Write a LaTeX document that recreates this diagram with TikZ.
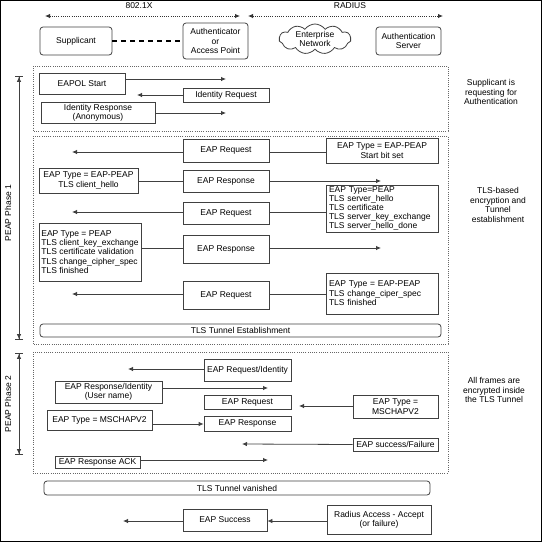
\documentclass[tikz,border=0pt]{standalone}
\usepackage{fontspec}
\setmainfont{Liberation Sans}
\usetikzlibrary{arrows.meta,shapes.symbols,calc}
\newcommand\figfont{\fontsize{8.5}{9.4}\selectfont}
\newcommand\tightfont{\fontsize{8.5}{8.8}\selectfont}
\begin{document}
\begin{tikzpicture}[x=1pt,y=-1pt,
  box/.style={draw=black!75, line width=0.8pt, rectangle, inner sep=1pt, font=\figfont, align=center},
  rbox/.style={box, rounded corners=3pt},
  lbox/.style={box, align=left, inner xsep=2pt},
  sz/.style 2 args={minimum width=#1pt, minimum height=#2pt},
  arr/.style={draw=black!75, line width=0.8pt, -{Latex[length=5pt,width=4.5pt]}},
  link/.style={draw=black!75, line width=0.8pt},
  dotarr/.style={draw=black!80, line width=0.9pt, dash pattern=on 1pt off 1.2pt, {Latex[length=5pt,width=4.5pt]}-{Latex[length=5pt,width=4.5pt]}},
  sect/.style={draw=black!60, line width=0.8pt, dash pattern=on 1pt off 1.2pt},
  phase/.style={draw=black!75, line width=0.8pt, {Bar[width=8pt]Latex[length=5pt,width=4.5pt]}-{Latex[length=5pt,width=4.5pt]Bar[width=8pt]}},
  lbl/.style={font=\figfont, align=center, inner sep=0pt}]
\useasboundingbox (0,0) rectangle (542,542);
\draw[black, line width=1.2pt] (0.6,0.6) rectangle (541.4,541.4);

% header
\node[lbl] (l8021x) at (139,5.5) {802.1X};
\node[lbl] (lradius) at (350,5.5) {RADIUS};
\coordinate (d1a) at (45,16); \coordinate (d1b) at (240,16);
\coordinate (d2a) at (248,16); \coordinate (d2b) at (443,16);
\draw[dotarr] (d1a) -- (d1b);
\draw[dotarr] (d2a) -- (d2b);

\node[rbox, sz={72}{28}] (sup) at (76,41) {Supplicant};
\node[rbox, sz={65}{36}] (auth) at (215.5,41) {Authenticator\\or\\Access Point};
\node[draw=black!75, line width=0.8pt, cloud, cloud puffs=11, cloud puff arc=110, aspect=2.6, inner sep=0pt, font=\figfont, align=center, minimum width=72pt, minimum height=30pt] (cloud) at (315,39) {Enterprise\\Network};
\node[rbox, sz={65}{28}] (server) at (408.5,41) {Authentication\\Server};
\draw[draw=black, line width=1.8pt, dash pattern=on 5pt off 4pt] (sup.east) -- (auth.west);

% section frames
\draw[sect] (33,66) rectangle (448,131);
\draw[sect] (33,136) rectangle (448,344);
\draw[sect] (33,352) rectangle (448,473);

% phase arrows
\coordinate (p1t) at (19,76); \coordinate (p1b) at (19,340);
\coordinate (p2t) at (19,353); \coordinate (p2b) at (19,455);
\draw[phase] (p1t) -- (p1b);
\draw[phase] (p2t) -- (p2b);
\node[lbl, rotate=90] (ph1) at (8,213) {PEAP Phase 1};
\node[lbl, rotate=90] (ph2) at (8,404) {PEAP Phase 2};

% right notes
\node[lbl] (n1) at (491,92) {Supplicant is\\requesting for\\Authentication};
\node[lbl] (n2) at (498,205) {TLS-based\\encryption and\\Tunnel\\establishment};
\node[lbl] (n3) at (494,390) {All frames are\\encrypted inside\\the TLS Tunnel};

% section 1
\node[box, sz={86}{21}] (eapol) at (82,83.5) {EAPOL Start};
\node[box, sz={86}{14}] (idreq) at (226,95) {Identity Request};
\node[box, sz={114}{21}] (idresp) at (98,112.5) {Identity Response\\(Anonymous)};
\coordinate (e1) at (226,79);
\coordinate (e2) at (137,95);
\coordinate (e3) at (226,113);
\draw[arr] (eapol.east |- e1) -- (e1);
\draw[arr] (idreq.west) -- (e2);
\draw[arr] (idresp.east |- e3) -- (e3);

% section 2
\node[box, sz={86}{23}] (req1) at (226,150.5) {EAP Request};
\node[box, sz={112}{25}] (peap1) at (382,150.5) {EAP Type = EAP-PEAP\\Start bit set};
\node[box, sz={99}{25}] (hello) at (88.5,180.5) {EAP Type = EAP-PEAP\\TLS client\_hello};
\node[box, sz={86}{22}] (resp1) at (226,181) {EAP Response};
\node[box, sz={86}{22}] (req2) at (226,213) {EAP Request};
\node[lbox, sz={112}{47}, text width=106pt, font=\tightfont] (srv) at (382,208.5) {EAP Type=PEAP\\TLS server\_hello\\TLS certificate\\TLS server\_key\_exchange\\TLS server\_hello\_done};
\node[lbox, sz={102}{58}, inner xsep=1pt] (cke) at (90,252) {EAP Type = PEAP\\TLS client\_key\_exchange\\TLS certificate validation\\TLS change\_cipher\_spec\\TLS finished};
\node[box, sz={86}{28}] (resp2) at (226,249) {EAP Response};
\node[box, sz={86}{28}] (req3) at (226,295) {EAP Request};
\node[lbox, sz={112}{41}, text width=106pt] (fin) at (382,293.5) {EAP Type = EAP-PEAP\\TLS change\_ciper\_spec\\TLS finished};
\node[rbox, sz={401}{13}] (tunnel) at (240.5,330.5) {TLS Tunnel Establishment};

\coordinate (f1) at (72,152);
\coordinate (f2) at (381,181);
\coordinate (f3) at (72,212);
\coordinate (f4) at (381,248);
\coordinate (f5) at (72,294);
\draw[arr] (req1.west |- f1) -- (f1);
\draw[link] (req1.east |- f1) -- (peap1.west |- f1);
\draw[link] (hello.east |- f2) -- (resp1.west |- f2);
\draw[arr] (resp1.east |- f2) -- (f2);
\draw[arr] (req2.west |- f3) -- (f3);
\draw[link] (req2.east |- f3) -- (srv.west |- f3);
\draw[link] (cke.east |- f4) -- (resp2.west |- f4);
\draw[arr] (resp2.east |- f4) -- (f4);
\draw[arr] (req3.west |- f5) -- (f5);
\draw[link] (req3.east |- f5) -- (fin.west |- f5);

% section 3
\node[box, sz={87}{22}] (reqid) at (247.5,370) {EAP Request/Identity};
\node[box, sz={107}{22}] (respid) at (108.5,392) {EAP Response/Identity\\(User name)};
\node[box, sz={87}{14}] (req4) at (247.5,402) {EAP Request};
\node[box, sz={85}{23}] (msch1) at (395.5,406.5) {EAP Type =\\MSCHAPV2};
\node[box, sz={105}{20}] (msch2) at (99.5,420) {EAP Type = MSCHAPV2};
\node[box, sz={87}{15}] (resp3) at (247.5,423.5) {EAP Response};
\node[box, sz={85}{13}] (succfail) at (395.5,444.5) {EAP success/Failure};
\node[box, sz={85}{12}] (ack) at (97.5,462.5) {EAP Response ACK};

\coordinate (g1) at (128,369);
\coordinate (g2) at (268,388);
\coordinate (g3) at (299,406);
\coordinate (g4) at (242,444);
\coordinate (g5) at (268,460);
\coordinate (g6) at (0,424);
\draw[arr] (reqid.west |- g1) -- (g1);
\draw[arr] (respid.east |- g2) -- (g2);
\draw[arr] (msch1.west |- g3) -- (g3);
\draw[arr] (msch2.east |- g6) -- (resp3.west |- g6);
\draw[arr] (succfail.west) -- (g4);
\draw[arr] (ack.east |- g5) -- (g5);

% after
\node[rbox, sz={386}{14}] (vanished) at (237,488) {TLS Tunnel vanished};
\node[box, sz={84}{22}] (success) at (225,520) {EAP Success};
\node[box, sz={104}{29}] (radius) at (379,519.5) {Radius Access - Accept\\(or failure)};
\coordinate (h1) at (123,521);
\draw[arr] (radius.west |- h1) -- (success.east |- h1);
\draw[arr] (success.west |- h1) -- (h1);
\end{tikzpicture}
\end{document}
